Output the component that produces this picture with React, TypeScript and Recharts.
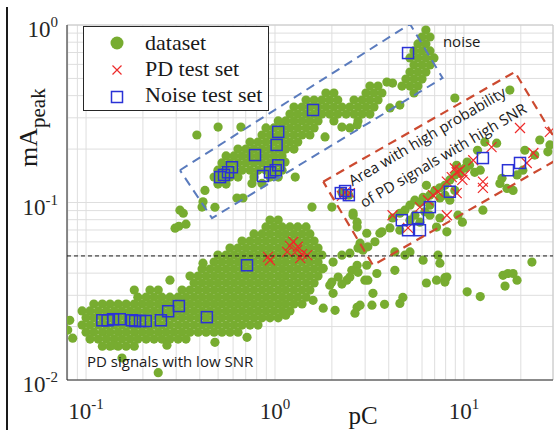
import React from "react";
import {
  ScatterChart,
  Scatter,
  XAxis,
  YAxis,
  CartesianGrid,
  ReferenceLine,
  ReferenceDot,
  Legend,
} from "recharts";

const GREEN = "#77ac30";
const RED = "#ee2a2a";
const BLUE = "#2a32d6";
const SERIF = "'Liberation Serif', 'Times New Roman', serif";
const SANS = "'Open Sans', 'Noto Sans', sans-serif";

const xTicks = [0.08, 0.09, 0.1, 0.2, 0.3, 0.4, 0.5, 0.6, 0.7, 0.8, 0.9, 1, 2, 3, 4, 5, 6, 7, 8, 9, 10, 20];
const yTicks = [
  0.01, 0.02, 0.03, 0.04, 0.05, 0.06, 0.07, 0.08, 0.09, 0.1, 0.2, 0.3, 0.4, 0.5, 0.6, 0.7, 0.8, 0.9, 1,
];
const xDomain = [0.0793, 29.6];
const yDomain = [0.01, 1];
const threshold = 0.05;

const lowRows: [number, number[]][] = [
  [0.0797, [0.941, 1.04]],
  [0.0728, [0.896, 0.988, 1.09, 1.2, 1.32, 1.46]],
  [0.0665, [0.774, 0.854, 0.941, 1.04, 1.14, 1.26, 1.39, 1.53]],
  [0.0607, [0.669, 0.738, 0.813, 0.896, 0.988, 1.09, 1.2, 1.32, 1.46, 1.61]],
  [0.0554, [0.578, 0.637, 0.702, 0.774, 0.854, 0.941, 1.04, 1.14, 1.26, 1.39, 1.53, 1.69]],
  [0.0506, [0.499, 0.551, 0.607, 0.669, 0.738, 0.813, 0.896, 0.988, 1.09, 1.2, 1.32, 1.46, 1.61, 1.77]],
  [0.0462, [0.476, 0.524, 0.578, 0.637, 0.702, 0.774, 0.854, 0.941, 1.04, 1.14, 1.26, 1.39, 1.53, 1.69]],
  [0.0422, [0.411, 0.453, 0.499, 0.551, 0.607, 0.669, 0.738, 0.813, 0.896, 0.988, 1.09, 1.2, 1.32, 1.46, 1.61, 1.77]],
  [0.0385, [0.355, 0.392, 0.432, 0.476, 0.524, 0.578, 0.637, 0.702, 0.774, 0.854, 0.941, 1.04, 1.14, 1.26, 1.39, 1.53, 1.69]],
  [0.0352, [0.373, 0.411, 0.453, 0.499, 0.551, 0.607, 0.669, 0.738, 0.813, 0.896, 0.988, 1.09, 1.2, 1.32, 1.46, 1.61]],
  [0.0321, [0.18, 0.218, 0.241, 0.322, 0.355, 0.392, 0.432, 0.476, 0.524, 0.578, 0.637, 0.702, 0.774, 0.854, 0.941, 1.04, 1.14, 1.26, 1.39, 1.53]],
  [0.0293, [0.188, 0.208, 0.229, 0.252, 0.278, 0.307, 0.338, 0.373, 0.411, 0.453, 0.499, 0.551, 0.607, 0.669, 0.738, 0.813, 0.896, 0.988, 1.09, 1.2, 1.32, 1.46]],
  [0.0268, [0.11, 0.122, 0.134, 0.148, 0.163, 0.18, 0.198, 0.218, 0.241, 0.265, 0.292, 0.322, 0.355, 0.392, 0.432, 0.476, 0.524, 0.578, 0.637, 0.702, 0.774, 0.854, 0.941, 1.04, 1.14, 1.26, 1.39]],
  [0.0245, [0.0953, 0.105, 0.116, 0.128, 0.141, 0.155, 0.171, 0.188, 0.208, 0.229, 0.252, 0.278, 0.307, 0.338, 0.373, 0.411, 0.453, 0.499, 0.551, 0.607, 0.669, 0.738, 0.813, 0.896, 0.988, 1.09, 1.2]],
  [0.0224, [0.1, 0.11, 0.122, 0.134, 0.148, 0.163, 0.18, 0.198, 0.218, 0.241, 0.265, 0.292, 0.322, 0.355, 0.392, 0.432, 0.476, 0.524, 0.578, 0.637, 0.702, 0.774, 0.854, 0.941, 1.04]],
  [0.0204, [0.0953, 0.105, 0.116, 0.128, 0.141, 0.155, 0.171, 0.188, 0.208, 0.229, 0.252, 0.278, 0.307, 0.338, 0.373, 0.411, 0.453, 0.499, 0.551, 0.607, 0.669, 0.738, 0.813]],
  [0.0186, [0.1, 0.11, 0.122, 0.134, 0.148, 0.163, 0.18, 0.198, 0.218, 0.241, 0.265, 0.292, 0.322, 0.355, 0.392, 0.432, 0.476, 0.524, 0.578, 0.637]],
  [0.017, [0.105, 0.116, 0.128, 0.141, 0.155, 0.171, 0.188, 0.208, 0.229, 0.252, 0.278, 0.307, 0.338]],
  [0.0155, [0.122, 0.134, 0.148, 0.163, 0.18]],
];

const noiseRows: [number, number[]][] = [
  [0.937, [6.29]],
  [0.856, [6.0, 6.61]],
  [0.782, [5.71, 6.29]],
  [0.714, [5.44, 6.0, 6.61]],
  [0.652, [5.18, 5.71, 6.29, 6.94]],
  [0.595, [5.44, 6.0, 6.61]],
  [0.543, [5.18, 5.71, 6.29]],
  [0.496, [4.93, 5.44, 6.0]],
  [0.453, [3.18, 3.51, 4.7, 5.18, 5.71]],
  [0.414, [1.86, 2.05, 3.03, 3.34, 3.68, 5.44]],
  [0.378, [1.46, 1.61, 1.77, 1.95, 2.15, 2.62, 2.89, 3.18, 3.51]],
  [0.345, [1.26, 1.39, 1.53, 1.69, 1.86, 2.05, 2.26, 2.49, 2.75, 3.03, 3.34]],
  [0.315, [1.2, 1.32, 1.46, 1.61, 1.77, 1.95, 2.15, 2.38, 2.62, 2.89, 3.18]],
  [0.288, [1.04, 1.14, 1.26, 1.39, 1.53, 1.69, 2.05, 2.75]],
  [0.263, [0.896, 0.988, 1.09, 1.2, 1.32, 1.46, 1.61]],
  [0.24, [0.854, 0.941, 1.04, 1.14, 1.26, 1.39, 1.53]],
  [0.219, [0.738, 0.813, 0.896, 0.988, 1.09, 1.2, 1.32]],
  [0.2, [0.637, 0.702, 0.774, 0.854, 0.941, 1.04, 1.14, 1.26]],
  [0.183, [0.551, 0.607, 0.669, 0.738, 0.813, 0.896, 0.988, 1.09]],
  [0.167, [0.524, 0.578, 0.637, 0.702, 0.774, 0.854, 0.941, 1.04]],
  [0.152, [0.499, 0.551, 0.607, 0.669, 0.738, 0.813, 0.896, 0.988, 1.09]],
  [0.139, [0.476, 0.524, 0.578, 0.637, 0.774, 0.941, 1.04]],
  [0.127, [0.499, 0.551]],
];

// scattered dataset points: [pC, mA peak]
const datasetSparse: [number, number][] = [
  [0.085, 0.0172], [0.08, 0.0191], [0.082, 0.0217], [0.155, 0.0133], [0.241, 0.011], [0.139, 0.0157],
  [0.268, 0.0157], [0.296, 0.0717], [0.31, 0.0735], [0.338, 0.0755], [0.416, 0.0455], [0.278, 0.0365],
  [0.711, 0.0174], [0.481, 0.0163], [1.57, 0.0942], [2.16, 0.038], [2.4, 0.0365], [2.03, 0.0462],
  [2.72, 0.0443], [2.99, 0.0365], [2.72, 0.0257], [2.08, 0.0247], [1.8, 0.0254], [2.65, 0.0238],
  [1.59, 0.0281], [0.481, 0.094], [2.92, 0.0539], [2.82, 0.059], [2.59, 0.0872], [2.72, 0.0775],
  [1.8, 0.0426], [2.0, 0.0356], [2.26, 0.0505], [2.49, 0.0518], [2.55, 0.0415], [2.75, 0.0404],
  [2.49, 0.038], [2.26, 0.0347], [1.95, 0.0342], [2.03, 0.0308], [2.82, 0.0264], [3.26, 0.0264],
  [3.3, 0.0308], [3.1, 0.0365], [3.06, 0.0443], [3.46, 0.0398], [3.38, 0.0601], [3.59, 0.0671],
  [2.75, 0.0554], [4.31, 0.0415], [4.87, 0.0505], [3.8, 0.0267], [4.58, 0.027], [4.75, 0.0292],
  [6.33, 0.0352], [7.16, 0.0365], [7.93, 0.0377], [7.93, 0.0356], [7.46, 0.0455], [10.4, 0.0314],
  [12.2, 0.0295], [16.1, 0.0389], [16.5, 0.0338], [17.1, 0.0398], [18.2, 0.0398], [19.1, 0.0365],
  [22.9, 0.0462], [1.14, 0.0232], [4.06, 0.0719], [4.58, 0.0698],
  [0.386, 0.24], [0.5, 0.266], [0.66, 0.266], [0.426, 0.117], [0.416, 0.101], [0.411, 0.0942],
  [0.629, 0.106], [0.677, 0.106], [0.314, 0.0905], [0.327, 0.087], [0.755, 0.128], [0.853, 0.128],
  [1.28, 0.139], [1.13, 0.169], [8.95, 0.388], [1.84, 0.234], [2.26, 0.266], [2.49, 0.263],
  [2.72, 0.273], [3.91, 0.477], [4.19, 0.471], [4.06, 0.341], [4.58, 0.354], [17.5, 0.43],
  [4.87, 0.0905], [6.08, 0.107], [6.33, 0.125], [9.15, 0.162], [10.4, 0.169], [11.4, 0.148],
  [12.2, 0.152], [15.9, 0.137], [15.5, 0.128], [16.9, 0.12], [18.2, 0.117], [19.1, 0.143],
  [20.5, 0.152], [28.5, 0.211], [14.9, 0.216], [12.9, 0.219], [7.46, 0.0818], [7.16, 0.0727],
  [8.12, 0.0684], [9.3, 0.0848], [12.6, 0.0905], [9.81, 0.0775], [2.0, 0.0942], [2.59, 0.0848],
  [2.72, 0.0727], [3.06, 0.0671], [3.1, 0.0563], [3.68, 0.0684], [4.31, 0.0527], [5.18, 0.0527],
  [6.08, 0.0473], [7.29, 0.0505], [8.12, 0.038],
  [4.58, 0.087], [5.18, 0.0966], [5.5, 0.103], [5.85, 0.1], [6.6, 0.11], [7.02, 0.117],
  [7.46, 0.121], [7.93, 0.125], [8.42, 0.134], [8.95, 0.143], [9.52, 0.146], [10.1, 0.156],
  [10.7, 0.162], [7.46, 0.106], [7.93, 0.11], [6.6, 0.0966], [6.21, 0.0887], [5.5, 0.0848],
  [5.18, 0.0795], [5.85, 0.0775], [6.6, 0.0848], [8.42, 0.103], [8.95, 0.117], [4.19, 0.0818],
  [11.8, 0.197], [23.7, 0.185], [25.2, 0.225], [27.8, 0.193], [21.0, 0.197], [2.26, 0.114],
  [2.46, 0.11],
];

const pdTest: [number, number][] = [
  [0.918, 0.0494], [0.941, 0.0473], [1.16, 0.0527], [1.25, 0.0601], [1.32, 0.0563], [1.39, 0.0512],
  [1.48, 0.0505], [1.36, 0.0486], [1.31, 0.0539], [1.2, 0.057],
  [4.19, 0.0848], [5.06, 0.0719], [5.85, 0.0942], [6.45, 0.103], [6.86, 0.11], [7.29, 0.115],
  [8.12, 0.131], [8.62, 0.139], [9.15, 0.148], [9.52, 0.152], [9.81, 0.134], [8.12, 0.0848],
  [11.2, 0.173], [12.6, 0.131], [12.6, 0.121], [14.0, 0.205], [19.8, 0.263], [23.3, 0.19],
  [21.5, 0.167], [28.5, 0.25], [9.15, 0.113], [2.35, 0.114], [2.49, 0.113], [2.26, 0.109],
  [8.95, 0.156], [10.1, 0.143],
];

const noiseTest: [number, number][] = [
  [0.122, 0.0217], [0.13, 0.0217], [0.139, 0.022], [0.151, 0.022], [0.175, 0.0217], [0.182, 0.0215],
  [0.193, 0.0215], [0.207, 0.0215], [0.249, 0.0217], [0.272, 0.0244], [0.31, 0.0261], [0.436, 0.0226],
  [0.711, 0.0443],
  [0.512, 0.139], [0.537, 0.143], [0.564, 0.148], [0.592, 0.158], [0.784, 0.185], [1.02, 0.211],
  [1.04, 0.25], [0.864, 0.141], [0.941, 0.148], [1.01, 0.152], [1.04, 0.162], [1.59, 0.332],
  [5.06, 0.695],
  [2.23, 0.113], [2.35, 0.116], [2.46, 0.11], [4.69, 0.0795], [5.71, 0.0818], [5.06, 0.0698],
  [5.85, 0.0698], [6.6, 0.0942], [8.42, 0.115], [12.6, 0.178], [17.1, 0.152], [19.8, 0.167],
];

// dashed boxes, corners in [pC, mA peak]
const noiseBox: [number, number][] = [[0.314, 0.152], [5.18, 1.013], [7.71, 0.503], [0.464, 0.0816]];
const pdBox: [number, number][] = [[1.8, 0.131], [18.6, 0.544], [34.2, 0.185], [3.3, 0.0443]];

const datasetPts = [
  ...lowRows.flatMap(([y, xs]) => xs.map((x) => ({ x, y }))),
  ...noiseRows.flatMap(([y, xs]) => xs.map((x) => ({ x, y }))),
  ...datasetSparse.map(([x, y]) => ({ x, y })),
];
const pdPts = pdTest.map(([x, y]) => ({ x, y }));
const noisePts = noiseTest.map(([x, y]) => ({ x, y }));

const closed = (box: [number, number][]) => [...box, box[0]].map(([x, y]) => ({ x, y }));
const thresholdPts = [
  { x: xDomain[0], y: threshold },
  { x: xDomain[1], y: threshold },
];

function isDecade(v: number) {
  const l = Math.log10(v);
  return Math.abs(l - Math.round(l)) < 1e-6;
}

function XTick(props: any) {
  const { x, y, payload } = props;
  if (!isDecade(payload.value)) return null;
  const e = Math.round(Math.log10(payload.value));
  return (
    <text x={x} y={y + 39} textAnchor="middle" fontFamily={SERIF} fontSize={23} fill="#262626">
      10
      <tspan fontSize={15} dy={-10}>
        {e}
      </tspan>
    </text>
  );
}

function YTick(props: any) {
  const { x, y, payload } = props;
  if (!isDecade(payload.value)) return null;
  const e = Math.round(Math.log10(payload.value));
  return (
    <text x={x - 9} y={y + 12} textAnchor="end" fontFamily={SERIF} fontSize={23} fill="#262626">
      10
      <tspan fontSize={15} dy={-10}>
        {e}
      </tspan>
    </text>
  );
}

const Dot = (p: any) => <circle cx={p.cx} cy={p.cy} r={4.6} fill={GREEN} />;
const Cross = (p: any) => (
  <path
    d={`M${p.cx - 5},${p.cy - 5}L${p.cx + 5},${p.cy + 5}M${p.cx + 5},${p.cy - 5}L${p.cx - 5},${p.cy + 5}`}
    stroke={RED}
    strokeWidth={1.2}
    fill="none"
  />
);
const Square = (p: any) => (
  <rect x={p.cx - 5.5} y={p.cy - 5.5} width={11} height={11} fill="none" stroke={BLUE} strokeWidth={1.5} />
);
const NoMark = () => <g />;

function textAt(label: string, anchor: string, angle = 0) {
  return (p: any) => (
    <text
      x={p.cx}
      y={p.cy}
      textAnchor={anchor}
      transform={angle ? `rotate(${angle} ${p.cx} ${p.cy})` : undefined}
      fontFamily={SANS}
      fontSize={15}
      fill="#1a1a1a"
    >
      {label}
    </text>
  );
}

const renderLegend = () => (
  <svg width={186} height={85} style={{ display: "block" }}>
    <rect x={0.5} y={0.5} width={185} height={84} fill="#fff" stroke="#262626" />
    <circle cx={34} cy={17} r={6.5} fill={GREEN} />
    <path d="M29.5,39.5L38.5,48.5M38.5,39.5L29.5,48.5" stroke={RED} strokeWidth={1.2} />
    <rect x={28.5} y={65.5} width={11} height={11} fill="none" stroke={BLUE} strokeWidth={1.5} />
    <g fontFamily={SERIF} fontSize={22} fill="#1a1a1a">
      <text x={62} y={24}>dataset</text>
      <text x={62} y={50}>PD test set</text>
      <text x={62} y={76}>Noise test set</text>
    </g>
  </svg>
);

export default function App() {
  return (
    <div style={{ position: "absolute", left: 0, top: 0, width: 560, height: 430, background: "#fff" }}>
      <div style={{ position: "absolute", left: 6, top: 7, width: 2, height: 423, background: "#1a1a1a" }} />
      <ScatterChart width={560} height={430} margin={{ top: 25, right: 7, bottom: 0, left: 0 }}>
        <CartesianGrid stroke="#dedede" />
        <XAxis
          dataKey="x"
          type="number"
          scale="log"
          domain={xDomain}
          ticks={xTicks}
          interval={0}
          allowDataOverflow
          height={50}
          tickLine={false}
          tickSize={0}
          tickMargin={0}
          axisLine={{ stroke: "#262626" }}
          tick={(p: any) => <XTick {...p} />}
          label={{
            content: (p: any) => (
              <text
                x={p.viewBox.x + 296}
                y={p.viewBox.y + 44}
                textAnchor="middle"
                fontFamily={SERIF}
                fontSize={25}
                fill="#1a1a1a"
              >
                pC
              </text>
            ),
          }}
        />
        <YAxis
          dataKey="y"
          type="number"
          scale="log"
          domain={yDomain}
          ticks={yTicks}
          interval={0}
          allowDataOverflow
          width={67}
          tickLine={false}
          tickSize={0}
          tickMargin={0}
          axisLine={{ stroke: "#262626" }}
          tick={(p: any) => <YTick {...p} />}
          label={{
            content: () => (
              <text
                x={37}
                y={167}
                transform="rotate(-90 37 167)"
                fontFamily={SERIF}
                fontSize={26}
                fill="#1a1a1a"
              >
                mA
                <tspan fontSize={21} dy={8}>
                  peak
                </tspan>
              </text>
            ),
          }}
        />
        <ReferenceLine y={1} stroke="#c8c8c8" />
        <ReferenceLine x={xDomain[1]} stroke="#c8c8c8" />
        <Scatter data={datasetPts} shape={Dot} isAnimationActive={false} />
        <Scatter data={pdPts} shape={Cross} isAnimationActive={false} />
        <Scatter data={noisePts} shape={Square} isAnimationActive={false} />
        <Scatter
          data={thresholdPts}
          shape={NoMark}
          line={{ stroke: "#1a1a1a", strokeWidth: 1, strokeDasharray: "4 3" }}
          legendType="none"
          isAnimationActive={false}
        />
        <Scatter
          data={closed(noiseBox)}
          shape={NoMark}
          line={{ stroke: "#5a7bbd", strokeWidth: 2, strokeDasharray: "9 6" }}
          legendType="none"
          isAnimationActive={false}
        />
        <Scatter
          data={closed(pdBox)}
          shape={NoMark}
          line={{ stroke: "#cc4a30", strokeWidth: 2.2, strokeDasharray: "9 6" }}
          legendType="none"
          isAnimationActive={false}
        />
        <ReferenceDot x={7.74} y={0.752} r={0} shape={textAt("noise", "start")} />
        <ReferenceDot x={0.1012} y={0.01184} r={0} shape={textAt("PD signals with low SNR", "start")} />
        <ReferenceDot x={6.6} y={0.222} r={0} shape={textAt("Area with high probability", "middle", -30.5)} />
        <ReferenceDot x={8.03} y={0.1735} r={0} shape={textAt("of PD signals with high SNR", "middle", -30.5)} />
        <Legend
          layout="vertical"
          align="center"
          verticalAlign="middle"
          content={renderLegend}
          wrapperStyle={{ left: 83, top: 26, width: 186, height: 85 }}
        />
      </ScatterChart>
    </div>
  );
}
